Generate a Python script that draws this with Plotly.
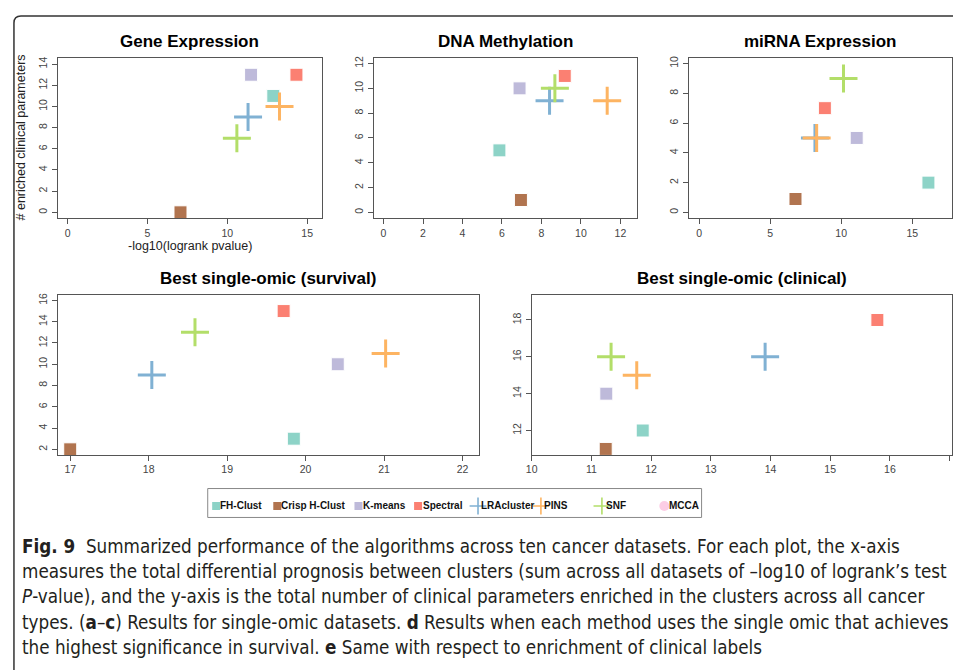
import plotly.graph_objects as go

# ---------------- data ----------------
methods = ["FH-Clust", "Crisp H-Clust", "K-means", "Spectral", "LRAcluster", "PINS", "SNF", "MCCA"]
colors = ["#8DD3C7", "#B1744F", "#BEBADA", "#FB8072", "#80B1D3", "#FDB462", "#B3DE69", "#FCCDE5"]
symbols = ["square", "square", "square", "square", "cross-thin", "cross-thin", "cross-thin", "circle"]

panel_titles = ["Gene Expression", "DNA Methylation", "miRNA Expression",
                "Best single-omic (survival)", "Best single-omic (clinical)"]

# values for the first seven methods (MCCA has no points)
ge_x = [12.88, 7.07, 11.49, 14.33, 11.30, 13.27, 10.60]
ge_y = [11, 0, 13, 13, 9, 10, 7]
dna_x = [5.87, 6.96, 6.89, 9.18, 8.41, 11.33, 8.68]
dna_y = [5, 1, 10, 11, 9, 9, 10]
mirna_x = [16.14, 6.78, 11.09, 8.85, 8.15, 8.27, 10.16]
mirna_y = [2, 0.9, 5, 7, 5, 5, 9]
surv_x = [19.85, 17.00, 20.41, 19.72, 18.04, 21.02, 18.59]
surv_y = [3, 2, 10, 15, 9, 11, 13]
clin_x = [11.86, 11.24, 11.25, 15.79, 13.91, 11.76, 11.33]
clin_y = [12, 11, 14, 18, 16, 15, 16]

xticks = [[0, 5, 10, 15], [0, 2, 4, 6, 8, 10, 12], [0, 5, 10, 15],
          [17, 18, 19, 20, 21, 22], [10, 11, 12, 13, 14, 15, 16, 17]]
yticks = [[0, 2, 4, 6, 8, 10, 12, 14], [0, 2, 4, 6, 8, 10, 12], [0, 2, 4, 6, 8, 10],
          [2, 4, 6, 8, 10, 12, 14, 16], [12, 14, 16, 18]]

x_label = "-log10(logrank pvalue)"
y_label = "# enriched clinical parameters"

caption_lines = [
    "<b>Fig. 9</b>&nbsp; Summarized performance of the algorithms across ten cancer datasets. For each plot, the x-axis",
    "measures the total differential prognosis between clusters (sum across all datasets of \u2013log10 of logrank\u2019s test",
    "<i>P</i>-value), and the y-axis is the total number of clinical parameters enriched in the clusters across all cancer",
    "types. (<b>a</b>\u2013<b>c</b>) Results for single-omic datasets. <b>d</b> Results when each method uses the single omic that achieves",
    "the highest significance in survival. <b>e</b> Same with respect to enrichment of clinical labels",
]

# ---------------- layout geometry (pixels) ----------------
W, H = 953, 670
panel_px = [  # x0, x1, y0(top), y1(bottom)
    (52, 318, 56, 217),
    (370, 635, 56, 217),
    (687, 952, 56, 217),
    (52, 476, 294, 454),
    (529, 952, 294, 454),
]
xranges = [[-0.62, 15.93], [-0.5, 12.84], [-0.74, 17.8], [16.84, 22.21], [10.0, 17.04]]
yranges = [[-0.57, 14.6], [-0.48, 12.46], [-0.4, 10.38], [1.5, 16.5], [10.69, 19.35]]

panels = [(ge_x, ge_y), (dna_x, dna_y), (mirna_x, mirna_y), (surv_x, surv_y), (clin_x, clin_y)]

FONT = "Liberation Sans, Arial, Helvetica, sans-serif"
CAP_FONT = "DejaVu Sans Condensed, sans-serif"

fig = go.Figure()


def px_to_paper_x(v):
    return v / W


def px_to_paper_y(v):
    return 1 - v / H


for i, (xs, ys) in enumerate(panels):
    n = i + 1
    xa = "x" if n == 1 else f"x{n}"
    ya = "y" if n == 1 else f"y{n}"
    for k in range(7):
        sym = symbols[k]
        if sym == "square":
            marker = dict(symbol="square", size=13, color=colors[k],
                          line=dict(color="white", width=1))
        else:
            marker = dict(symbol=sym, size=20, color=colors[k],
                          line=dict(color=colors[k], width=3))
        fig.add_trace(go.Scatter(x=[xs[k]], y=[ys[k]], mode="markers", marker=marker,
                                 name=methods[k], showlegend=False, xaxis=xa, yaxis=ya,
                                 cliponaxis=False))

axis_common = dict(showline=True, linecolor="#555555", linewidth=1, mirror=True,
                   ticks="outside", ticklen=5, tickcolor="#555555", showgrid=False,
                   zeroline=False, tickfont=dict(family=FONT, size=10.5, color="#444444"),
                   fixedrange=True)

layout = dict(width=W, height=H, margin=dict(l=0, r=0, t=0, b=0),
              paper_bgcolor="white", plot_bgcolor="rgba(0,0,0,0)", showlegend=False)

annotations = []
for i in range(5):
    n = i + 1
    x0, x1, y0, y1 = panel_px[i]
    xk = "xaxis" if n == 1 else f"xaxis{n}"
    yk = "yaxis" if n == 1 else f"yaxis{n}"
    layout[xk] = dict(domain=[px_to_paper_x(x0), px_to_paper_x(x1)], range=xranges[i],
                      tickvals=xticks[i], anchor="y" if n == 1 else f"y{n}", **axis_common)
    layout[yk] = dict(domain=[px_to_paper_y(y1), px_to_paper_y(y0)], range=yranges[i],
                      tickvals=yticks[i], tickangle=-90,
                      anchor="x" if n == 1 else f"x{n}", **axis_common)
    title_y = 40 if i < 3 else 277
    annotations.append(dict(text=f"<b>{panel_titles[i]}</b>", xref="paper", yref="paper",
                            x=px_to_paper_x((x0 + x1) / 2), y=px_to_paper_y(title_y),
                            xanchor="center", yanchor="middle", showarrow=False,
                            font=dict(family=FONT, size=17, color="#000000")))

annotations.append(dict(text=x_label, xref="paper", yref="paper", x=px_to_paper_x(185),
                        y=px_to_paper_y(245), xanchor="center", yanchor="middle",
                        showarrow=False, font=dict(family=FONT, size=12.5, color="#222222")))
annotations.append(dict(text=y_label, xref="paper", yref="paper", x=px_to_paper_x(15),
                        y=px_to_paper_y(136), xanchor="center", yanchor="middle",
                        textangle=-90, showarrow=False,
                        font=dict(family=FONT, size=12.5, color="#222222")))

# ---------------- manual legend on a pixel-scaled overlay axis ----------------
legend_sym_x = [211.5, 273, 354.7, 414.7, 475, 538.3, 599.7, 662.5]
legend_text_x = [213, 274.5, 357, 418, 476, 539.5, 601.5, 665.5]
legend_y = 505.5
layout["xaxis6"] = dict(domain=[0, 1], range=[0, W], visible=False, fixedrange=True, anchor="y6")
layout["yaxis6"] = dict(domain=[0, 1], range=[H, 0], visible=False, fixedrange=True, anchor="x6")
for k in range(8):
    sym = symbols[k]
    if sym == "square":
        marker = dict(symbol="square", size=8, color=colors[k], line=dict(width=0))
    elif sym == "circle":
        marker = dict(symbol="circle", size=10, color=colors[k], line=dict(width=0))
    else:
        marker = dict(symbol="cross-thin", size=12, color=colors[k],
                      line=dict(color=colors[k], width=1.6))
    fig.add_trace(go.Scatter(x=[legend_sym_x[k]], y=[legend_y], mode="markers", marker=marker,
                             showlegend=False, xaxis="x6", yaxis="y6", hoverinfo="skip"))
    annotations.append(dict(text=f"<b>{methods[k]}</b>", xref="paper", yref="paper",
                            x=px_to_paper_x(legend_text_x[k]), y=px_to_paper_y(legend_y),
                            xanchor="left", yanchor="middle", showarrow=False,
                            font=dict(family=FONT, size=10, color="#111111")))

shapes = [
    dict(type="rect", xref="x6", yref="y6", x0=203, x1=700, y0=488, y1=517,
         line=dict(color="#888888", width=1), fillcolor="rgba(0,0,0,0)", layer="below"),
    dict(type="path", xref="x6", yref="y6",
         path="M 8 670 L 8 21 Q 8 14 15 14 L 953 14",
         line=dict(color="#333333", width=1.5)),
]

# ---------------- caption ----------------
cap_y = [546, 571, 596.5, 622, 647.5]
for line, yy in zip(caption_lines, cap_y):
    annotations.append(dict(text=line, xref="paper", yref="paper", x=px_to_paper_x(14),
                            y=px_to_paper_y(yy), xanchor="left", yanchor="middle",
                            showarrow=False,
                            font=dict(family=CAP_FONT, size=18.7, color="#231F20")))

layout["annotations"] = annotations
layout["shapes"] = shapes
fig.update_layout(**layout)
fig.write_html("out.html")
